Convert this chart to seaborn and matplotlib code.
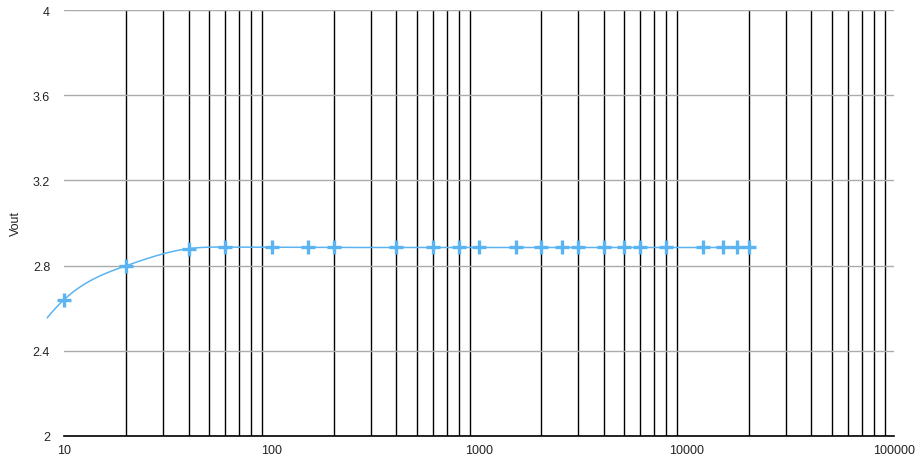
import numpy as np
import pandas as pd
import seaborn as sns
import matplotlib
matplotlib.use("Agg")
import matplotlib.pyplot as plt
from matplotlib.ticker import LogLocator, FixedLocator, NullFormatter

# frequency (Hz) and measured output voltage
freq = [10, 20, 40, 60, 100, 150, 200, 400, 600, 800, 1000, 1500, 2000, 2500,
        3000, 4000, 5000, 6000, 8000, 12000, 15000, 17500, 20000]
vout = [2.64, 2.80, 2.88, 2.887, 2.886, 2.885, 2.885, 2.885, 2.885, 2.885, 2.885,
        2.885, 2.885, 2.885, 2.885, 2.885, 2.885, 2.885, 2.885, 2.885, 2.885,
        2.885, 2.885]
# where the smoothed trend line starts, left of the first point
curve_start = (8.3, 2.555)

y_ticks = [2, 2.4, 2.8, 3.2, 3.6, 4]
y_labels = ["2", "2.4", "2.8", "3.2", "3.6", "4"]
x_ticks = [10, 100, 1000, 10000, 100000]
x_labels = ["10", "100", "1000", "10000", "100000"]

BLUE = "#5ab4f2"


def smooth(xs, ys, n=30):
    # cubic spline through the points in log-x space,
    # end curvature equal to its neighbour (no flat "natural" ends)
    x = np.log10(np.asarray(xs, float))
    y = np.asarray(ys, float)
    k = len(x)
    h = np.diff(x)
    A = np.zeros((k, k))
    b = np.zeros(k)
    A[0, 0], A[0, 1] = 1, -1
    A[-1, -1], A[-1, -2] = 1, -1
    for i in range(1, k - 1):
        A[i, i - 1] = h[i - 1]
        A[i, i] = 2 * (h[i - 1] + h[i])
        A[i, i + 1] = h[i]
        b[i] = 6 * ((y[i + 1] - y[i]) / h[i] - (y[i] - y[i - 1]) / h[i - 1])
    M = np.linalg.solve(A, b)
    xo, yo = [], []
    for i in range(k - 1):
        t = np.linspace(x[i], x[i + 1], n, endpoint=False)
        a, c = x[i + 1] - t, t - x[i]
        s = (M[i] * a ** 3 + M[i + 1] * c ** 3) / (6 * h[i]) \
            + (y[i] / h[i] - M[i] * h[i] / 6) * a + (y[i + 1] / h[i] - M[i + 1] * h[i] / 6) * c
        xo.extend(t)
        yo.extend(s)
    xo.append(x[-1])
    yo.append(y[-1])
    return 10 ** np.array(xo), np.array(yo)


sns.set_theme(style="white")
plt.rcParams["font.family"] = ["Liberation Sans", "DejaVu Sans"]

fig = plt.figure(figsize=(9.24, 4.64), dpi=100)
ax = fig.add_axes([64 / 924, 1 - 437 / 464, (894 - 64) / 924, (437 - 11) / 464])

cx, cy = smooth([curve_start[0]] + freq, [curve_start[1]] + vout)
curve = pd.DataFrame({"f": cx, "v": cy})
pts = pd.DataFrame({"f": freq, "v": vout})

ax.set_xscale("log")
ax.set_xlim(10, 100000)
ax.set_ylim(2, 4)

# grid: black minor verticals, grey horizontals
ax.xaxis.set_major_locator(FixedLocator(x_ticks))
ax.xaxis.set_minor_locator(LogLocator(base=10, subs=np.arange(2, 10)))
ax.xaxis.set_minor_formatter(NullFormatter())
ax.set_xticks(x_ticks)
ax.set_xticklabels(x_labels)
ax.set_yticks(y_ticks)
ax.set_yticklabels(y_labels)
ax.grid(False)
ax.grid(True, which="minor", axis="x", color="black", linewidth=1.0)
ax.grid(True, which="major", axis="y", color="#ababab", linewidth=1.0)

sns.lineplot(data=curve, x="f", y="v", ax=ax, color=BLUE, linewidth=1.1,
             sort=False, clip_on=False, zorder=3)
sns.scatterplot(data=pts, x="f", y="v", ax=ax, marker="+", s=110, color=BLUE,
                linewidth=2.4, zorder=4, clip_on=False)

for s in ["top", "right", "left"]:
    ax.spines[s].set_visible(False)
ax.spines["bottom"].set_color("black")
ax.spines["bottom"].set_linewidth(1.2)

ax.tick_params(axis="both", which="both", length=0, labelsize=9, colors="#222222")
ax.tick_params(axis="y", pad=10)
ax.tick_params(axis="x", pad=6)
ax.set_xlabel("")
ax.set_ylabel("Vout", fontsize=9, color="#222222")
ax.yaxis.set_label_coords(-42 / 830, 0.5)

fig.savefig("out.png", dpi=100)
